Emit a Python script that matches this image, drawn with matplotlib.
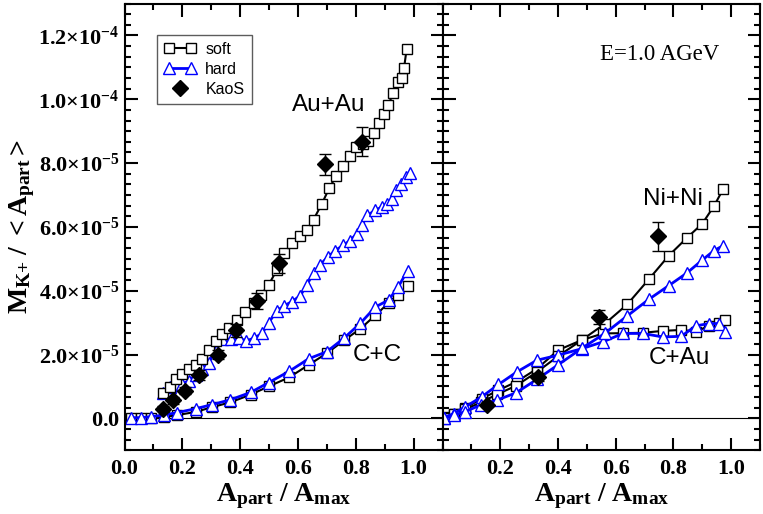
import matplotlib
matplotlib.use("Agg")
import matplotlib.pyplot as plt
from matplotlib.ticker import MultipleLocator, AutoMinorLocator
from matplotlib.lines import Line2D
from matplotlib.legend_handler import HandlerLine2D
import numpy as np

plt.rcParams['font.family'] = ['Liberation Sans', 'DejaVu Sans']
plt.rcParams['mathtext.fontset'] = 'custom'
plt.rcParams['mathtext.rm'] = 'Liberation Serif'
plt.rcParams['mathtext.bf'] = 'Liberation Serif:bold'
plt.rcParams['mathtext.it'] = 'Liberation Serif:italic'

SCALE = 1e-5  # all y values below are in units of 1e-5

# ---- left panel: Au+Au and C+C ----
auau_soft_x = [0.133, 0.156, 0.178, 0.199, 0.222, 0.246, 0.268, 0.291, 0.315, 0.337,
               0.363, 0.389, 0.418, 0.447, 0.472, 0.499, 0.527, 0.553, 0.579, 0.608,
               0.631, 0.654, 0.683, 0.709, 0.732, 0.756, 0.780, 0.802, 0.824, 0.844,
               0.864, 0.882, 0.898, 0.913, 0.930, 0.945, 0.959, 0.967, 0.976]
auau_soft_y = [0.78, 0.98, 1.22, 1.40, 1.55, 1.67, 1.87, 2.14, 2.43, 2.65,
               2.84, 3.08, 3.32, 3.62, 3.87, 4.19, 4.65, 5.17, 5.50, 5.73,
               5.90, 6.23, 6.73, 7.23, 7.59, 7.91, 8.22, 8.50, 8.60, 8.70,
               8.95, 9.25, 9.54, 9.83, 10.21, 10.53, 10.67, 10.98, 11.58]

auau_hard_x = [0.133, 0.159, 0.178, 0.199, 0.222, 0.246, 0.268, 0.291, 0.315, 0.337,
               0.369, 0.395, 0.422, 0.447, 0.476, 0.499, 0.527, 0.553, 0.579, 0.608,
               0.631, 0.654, 0.677, 0.705, 0.729, 0.756, 0.780, 0.804, 0.821, 0.840,
               0.867, 0.890, 0.907, 0.925, 0.940, 0.955, 0.974, 0.986]
auau_hard_y = [0.80, 0.98, 1.03, 1.08, 1.17, 1.35, 1.53, 1.74, 2.11, 2.48,
               2.48, 2.51, 2.43, 2.51, 2.66, 3.00, 3.37, 3.53, 3.66, 3.84,
               4.19, 4.55, 4.82, 5.07, 5.26, 5.42, 5.57, 5.79, 6.05, 6.36,
               6.52, 6.62, 6.73, 6.86, 7.15, 7.34, 7.57, 7.68]

cc_x = [0.021, 0.056, 0.090, 0.136, 0.182, 0.246, 0.303, 0.366, 0.436, 0.499,
        0.569, 0.638, 0.700, 0.759, 0.816, 0.868, 0.914, 0.947, 0.979]
cc_soft_y = [0.00, 0.00, 0.01, 0.04, 0.10, 0.20, 0.35, 0.50, 0.74, 1.00,
             1.28, 1.68, 2.04, 2.44, 2.81, 3.23, 3.62, 3.86, 4.15]
cc_hard_y = [0.02, 0.02, 0.05, 0.10, 0.18, 0.30, 0.43, 0.58, 0.81, 1.12,
             1.47, 1.87, 2.09, 2.51, 2.98, 3.49, 3.71, 4.12, 4.63]

kaos_auau_x = [0.133, 0.167, 0.208, 0.259, 0.323, 0.384, 0.458, 0.536, 0.695, 0.821]
kaos_auau_y = [0.30, 0.56, 0.87, 1.35, 2.00, 2.76, 3.68, 4.86, 7.96, 8.67]
kaos_auau_err = [0.08, 0.10, 0.12, 0.15, 0.15, 0.20, 0.25, 0.30, 0.32, 0.45]

# ---- right panel: Ni+Ni and C+Au ----
nini_x = [0.005, 0.039, 0.079, 0.133, 0.189, 0.255, 0.327, 0.401, 0.482, 0.562,
          0.640, 0.715, 0.784, 0.846, 0.900, 0.941, 0.972]
nini_soft_y = [0.02, 0.12, 0.28, 0.50, 0.75, 1.02, 1.45, 1.95, 2.45, 2.96,
               3.57, 4.36, 5.10, 5.65, 6.10, 6.66, 7.18]
nini_hard_y = [0.00, 0.10, 0.21, 0.42, 0.57, 0.80, 1.22, 1.68, 2.19, 2.66,
               3.21, 3.73, 4.16, 4.55, 4.96, 5.26, 5.41]

cau_x = [0.005, 0.039, 0.079, 0.137, 0.194, 0.257, 0.327, 0.401, 0.482, 0.557,
         0.625, 0.694, 0.763, 0.827, 0.878, 0.924, 0.959, 0.978]
cau_soft_y = [0.05, 0.15, 0.33, 0.62, 0.88, 1.15, 1.55, 2.14, 2.45, 2.66,
              2.67, 2.68, 2.74, 2.77, 2.72, 2.90, 2.98, 3.08]
cau_hard_y = [0.02, 0.15, 0.36, 0.68, 1.06, 1.45, 1.82, 1.98, 2.18, 2.40,
              2.66, 2.66, 2.55, 2.57, 2.90, 2.97, 2.97, 2.72]

kaos_nini_x = [0.154, 0.332, 0.543, 0.746]
kaos_nini_y = [0.42, 1.30, 3.18, 5.70]
kaos_nini_err = [0.08, 0.13, 0.22, 0.46]

yticks = [0, 2e-5, 4e-5, 6e-5, 8e-5, 1e-4, 1.2e-4]
ytick_labels = [r'$\mathbf{0.0}$', r'$\mathbf{2.0{\times}10^{-5}}$', r'$\mathbf{4.0{\times}10^{-5}}$',
                r'$\mathbf{6.0{\times}10^{-5}}$', r'$\mathbf{8.0{\times}10^{-5}}$',
                r'$\mathbf{1.0{\times}10^{-4}}$', r'$\mathbf{1.2{\times}10^{-4}}$']
xticks_left = [0.0, 0.2, 0.4, 0.6, 0.8, 1.0]
xticks_right = [0.2, 0.4, 0.6, 0.8, 1.0]

BLUE = '#0000ff'
soft_style = dict(color='black', marker='s', ms=7, mfc='white', mec='black', mew=1, lw=1.5)
hard_style = dict(color=BLUE, marker='^', ms=8, mfc='white', mec=BLUE, mew=1, lw=2)
kaos_style = dict(fmt='D', color='black', ms=8, capsize=4, elinewidth=1, capthick=1, zorder=5)


def sc(v):
    return np.array(v) * SCALE


fig = plt.figure(figsize=(7.63, 5.14), dpi=100)
ax1 = fig.add_axes([124.5 / 763, 63.8 / 514, 318 / 763, 446.6 / 514])
ax2 = fig.add_axes([442.5 / 763, 63.8 / 514, 317.5 / 763, 446.6 / 514])

# left panel
ax1.axhline(0, color='black', lw=0.8, zorder=1)
ax1.plot(cc_x, sc(cc_soft_y), **soft_style)
ax1.plot(cc_x, sc(cc_hard_y), **hard_style)
ax1.plot(auau_hard_x, sc(auau_hard_y), **hard_style)
ax1.plot(auau_soft_x, sc(auau_soft_y), **soft_style)
ax1.errorbar(kaos_auau_x, sc(kaos_auau_y), yerr=sc(kaos_auau_err), **kaos_style)

# right panel
ax2.axhline(0, color='black', lw=0.8, zorder=1)
ax2.plot(cau_x, sc(cau_soft_y), **soft_style)
ax2.plot(nini_x, sc(nini_soft_y), **soft_style)
ax2.plot(cau_x, sc(cau_hard_y), **hard_style)
ax2.plot(nini_x, sc(nini_hard_y), **hard_style)
ax2.errorbar(kaos_nini_x, sc(kaos_nini_y), yerr=sc(kaos_nini_err), **kaos_style)

for ax in (ax1, ax2):
    ax.set_xlim(0, 1.1)
    ax.set_ylim(-1e-5, 1.3e-4)
    ax.set_yticks(yticks)
    ax.xaxis.set_minor_locator(MultipleLocator(0.1))
    ax.yaxis.set_minor_locator(AutoMinorLocator(6))
    ax.tick_params(which='both', direction='in', top=True, right=True, width=1.5)
    ax.tick_params(which='major', length=9)
    ax.tick_params(which='minor', length=4.5)
    for s in ax.spines.values():
        s.set_linewidth(1.5)

ax1.set_xticks(xticks_left)
ax1.set_xticklabels([f'{v:.1f}' for v in xticks_left], fontfamily='Liberation Serif',
                    fontweight='bold', fontsize=16)
ax2.set_xticks(xticks_right)
ax2.set_xticklabels([f'{v:.1f}' for v in xticks_right], fontfamily='Liberation Serif',
                    fontweight='bold', fontsize=16)
ax1.set_yticklabels(ytick_labels, fontsize=16)
ax2.set_yticklabels([])
ax1.tick_params(axis='x', pad=6)
ax2.tick_params(axis='x', pad=6)

xlabel = r'$\mathbf{A_{part}\ /\ A_{max}}$'
ax1.set_xlabel(xlabel, fontsize=20, labelpad=2)
ax2.set_xlabel(xlabel, fontsize=20, labelpad=2)
ax1.set_ylabel(r'$\mathbf{M_{K{+}}\ /\ {<}A_{part}{>}}$', fontsize=20, labelpad=1)

ax1.text(0.705, 9.82e-5, 'Au+Au', ha='center', va='center', fontsize=17.5)
ax1.text(0.874, 1.99e-5, 'C+C', ha='center', va='center', fontsize=17.5)
ax2.text(0.797, 6.87e-5, 'Ni+Ni', ha='center', va='center', fontsize=17.5)
ax2.text(0.821, 1.89e-5, 'C+Au', ha='center', va='center', fontsize=17.5)
ax2.text(0.752, 11.39e-5, 'E=1.0 AGeV', ha='center', va='center', fontsize=16.5,
         fontfamily='Liberation Serif')

h_soft = Line2D([], [], **soft_style)
h_hard = Line2D([], [], **hard_style)
h_kaos = Line2D([], [], ls='none', marker='D', color='black', ms=8)
leg = ax1.legend([h_soft, h_hard, h_kaos], ['soft', 'hard', 'KaoS'],
                 loc='upper left', bbox_to_anchor=(0.101, 0.930), borderaxespad=0,
                 fontsize=11.5, numpoints=2, handlelength=2.0, handletextpad=0.6,
                 labelspacing=0.3, borderpad=0.45, fancybox=False,
                 handler_map={h_kaos: HandlerLine2D(numpoints=1)})
leg.get_frame().set_edgecolor('#333333')
leg.get_frame().set_linewidth(1.0)

fig.savefig('out.png', dpi=100)
